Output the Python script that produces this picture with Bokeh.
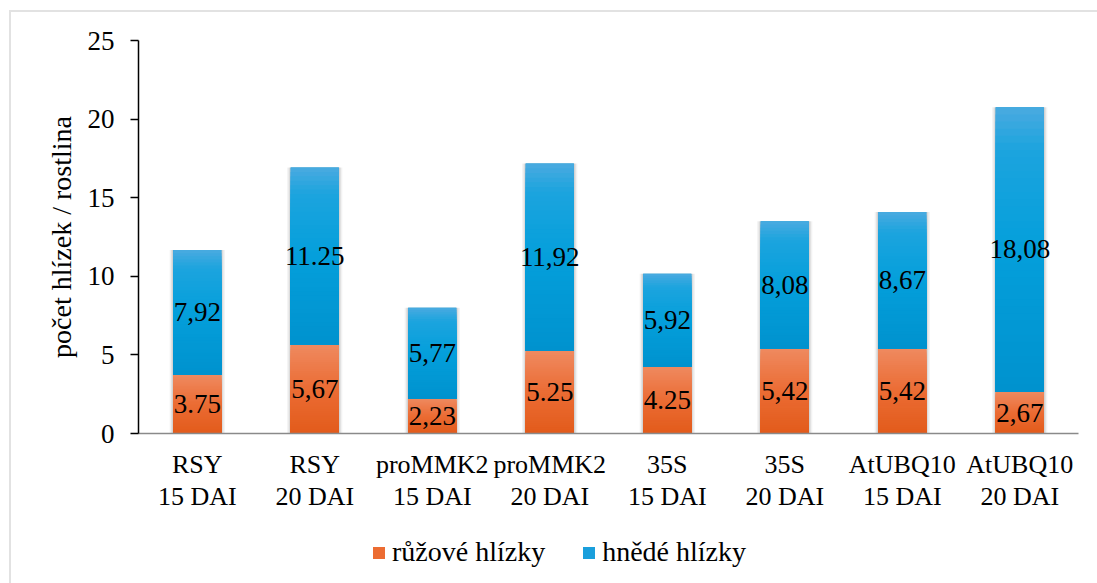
import numpy as np
from bokeh.plotting import figure
from bokeh.layouts import column
from bokeh.models import (ColumnDataSource, FactorRange, Range1d, Legend, LegendItem,
                          FixedTicker)
from bokeh.embed import file_html
from bokeh.resources import INLINE
from bokeh.core.properties import value

# --- data -------------------------------------------------------------
constructs = ["RSY", "RSY", "proMMK2", "proMMK2", "35S", "35S", "AtUBQ10", "AtUBQ10"]
timepoints = ["15 DAI", "20 DAI", "15 DAI", "20 DAI", "15 DAI", "20 DAI", "15 DAI", "20 DAI"]
pink = [3.75, 5.67, 2.23, 5.25, 4.25, 5.42, 5.42, 2.67]      # růžové hlízky
brown = [7.92, 11.25, 5.77, 11.92, 5.92, 8.08, 8.67, 18.08]  # hnědé hlízky
# decimal separator used in each value label
pink_sep = [".", ",", ",", ".", ".", ",", ",", ","]
brown_sep = [",", ".", ",", ",", ",", ",", ",", ","]
y_ticks = [0, 5, 10, 15, 20, 25]
series_names = ["růžové hlízky", "hnědé hlízky"]

FONT = "Liberation Serif"
BAR_W = 0.41
OFF_X, OFF_Y = 11, 12          # space taken by the light outer frame
W = 1097 - OFF_X
CHART_H = 530 - OFF_Y
LEGEND_H = 583 - 530

factors = [f"{c}\n{t}" for c, t in zip(constructs, timepoints)]
pink_arr = np.array(pink)
brown_arr = np.array(brown)
tops = pink_arr + brown_arr

p = figure(width=W, height=CHART_H,
           x_range=FactorRange(*factors, range_padding=0),
           y_range=Range1d(0, 25), output_backend="svg", toolbar_location=None,
           min_border_left=138 - OFF_X, min_border_right=19,
           min_border_top=40 - OFF_Y, min_border_bottom=530 - 433,
           background_fill_color="white", border_fill_color="white")
p.outline_line_color = None
p.grid.visible = False

# soft shadow behind the stacks
for extra, alpha in [(0.06, 0.05), (0.035, 0.07), (0.015, 0.08)]:
    p.vbar(x=factors, bottom=0, top=tops, width=BAR_W + extra,
           fill_color="#000000", fill_alpha=alpha, line_color=None)


def gradient(stops, s):
    pos = [st[0] for st in stops]
    rgb = [int(round(np.interp(s, pos, [st[1][i] for st in stops]))) for i in range(3)]
    return "#%02x%02x%02x" % tuple(rgb)


orange_stops = [(0.0, (226, 91, 27)), (0.5, (235, 108, 52)), (1.0, (239, 138, 96))]
blue_stops = [(0.0, (0, 146, 206)), (0.5, (4, 159, 219)), (0.85, (28, 164, 222)),
              (1.0, (74, 170, 224))]


def draw_segment(bottoms, heights, stops, base_color, n=40):
    bottoms = np.asarray(bottoms, dtype=float)
    heights = np.asarray(heights, dtype=float)
    p.vbar(x=factors, bottom=bottoms, top=bottoms + heights, width=BAR_W,
           fill_color=base_color, line_color=None)
    xs, bs, ts, cs = [], [], [], []
    for k in range(n):
        frac_top = (n - k) / n
        col = gradient(stops, (n - k - 0.5) / n)
        for f, b, h in zip(factors, bottoms, heights):
            xs.append(f)
            bs.append(b)
            ts.append(b + h * frac_top)
            cs.append(col)
    src = ColumnDataSource(dict(x=xs, bottom=bs, top=ts, color=cs))
    p.vbar(x="x", bottom="bottom", top="top", width=BAR_W, fill_color="color",
           line_color=None, source=src)


draw_segment(np.zeros(len(pink)), pink_arr, orange_stops, "#ec6c32")
draw_segment(pink_arr, brown_arr, blue_stops, "#1a9fdc")

# value labels centred in each segment
pink_lbl = [f"{v:.2f}".replace(".", s) for v, s in zip(pink, pink_sep)]
brown_lbl = [f"{v:.2f}".replace(".", s) for v, s in zip(brown, brown_sep)]
lbl_src = ColumnDataSource(dict(
    x=factors + factors,
    y=list(pink_arr / 2) + list(pink_arr + brown_arr / 2),
    text=pink_lbl + brown_lbl))
p.text(x="x", y="y", text="text", source=lbl_src, text_align="center",
       text_baseline="middle", text_font=value(FONT), text_font_size="27px",
       text_color="black")

# axes
p.yaxis.ticker = FixedTicker(ticks=y_ticks)
p.yaxis.minor_tick_line_color = None
p.yaxis.major_tick_out = 8
p.yaxis.major_tick_in = 0
p.yaxis.axis_line_color = "black"
p.yaxis.axis_line_width = 1.5
p.yaxis.major_tick_line_width = 1.5
p.yaxis.major_label_text_font = FONT
p.yaxis.major_label_text_font_size = "27px"
p.yaxis.major_label_text_color = "black"
p.yaxis.major_label_standoff = 16
p.yaxis.axis_label = "počet hlízek / rostlina"
p.yaxis.axis_label_text_font = FONT
p.yaxis.axis_label_text_font_size = "28px"
p.yaxis.axis_label_text_font_style = "normal"
p.yaxis.axis_label_text_color = "black"
p.yaxis.axis_label_standoff = 8

p.xaxis.axis_line_color = "#8a8a8a"
p.xaxis.axis_line_width = 1.5
p.xaxis.major_tick_line_color = None
p.xaxis.minor_tick_line_color = None
p.xaxis.major_label_text_font = FONT
p.xaxis.major_label_text_font_size = "26px"
p.xaxis.major_label_text_line_height = 1.12
p.xaxis.major_label_text_color = "black"
p.xaxis.major_label_standoff = 10
p.xaxis.major_label_orientation = "horizontal"

# legend strip under the chart (its frame lines up with the chart frame);
# the swatch renderers sit outside the strip's visible range
leg = figure(width=W, height=LEGEND_H, output_backend="svg", toolbar_location=None,
             x_range=Range1d(0, 1), y_range=Range1d(0, 1),
             min_border=0, background_fill_color="white", border_fill_color="white")
leg.axis.visible = False
leg.grid.visible = False
leg.outline_line_color = None
swatch_pink = leg.quad(left=[-3], right=[-2], bottom=[-3], top=[-2],
                       fill_color="#ec6c32", line_color=None)
swatch_brown = leg.quad(left=[-3], right=[-2], bottom=[-3], top=[-2],
                        fill_color="#1a9fdc", line_color=None)
legend = Legend(items=[LegendItem(label=series_names[0], renderers=[swatch_pink]),
                       LegendItem(label=series_names[1], renderers=[swatch_brown])],
                orientation="horizontal", location=(233, 15),
                label_text_font=FONT, label_text_font_size="28px",
                label_text_color="black", glyph_width=15, glyph_height=15,
                label_standoff=6, spacing=36, padding=0, margin=0,
                border_line_color=None, background_fill_alpha=0)
leg.add_layout(legend, "center")

layout = column(p, leg, spacing=0)
layout.styles = {"margin-left": "9px", "margin-top": "10px",
                 "border-left": "2px solid #e2e2e2", "border-top": "2px solid #e2e2e2"}

open("out.html", "w").write(file_html(layout, INLINE))
